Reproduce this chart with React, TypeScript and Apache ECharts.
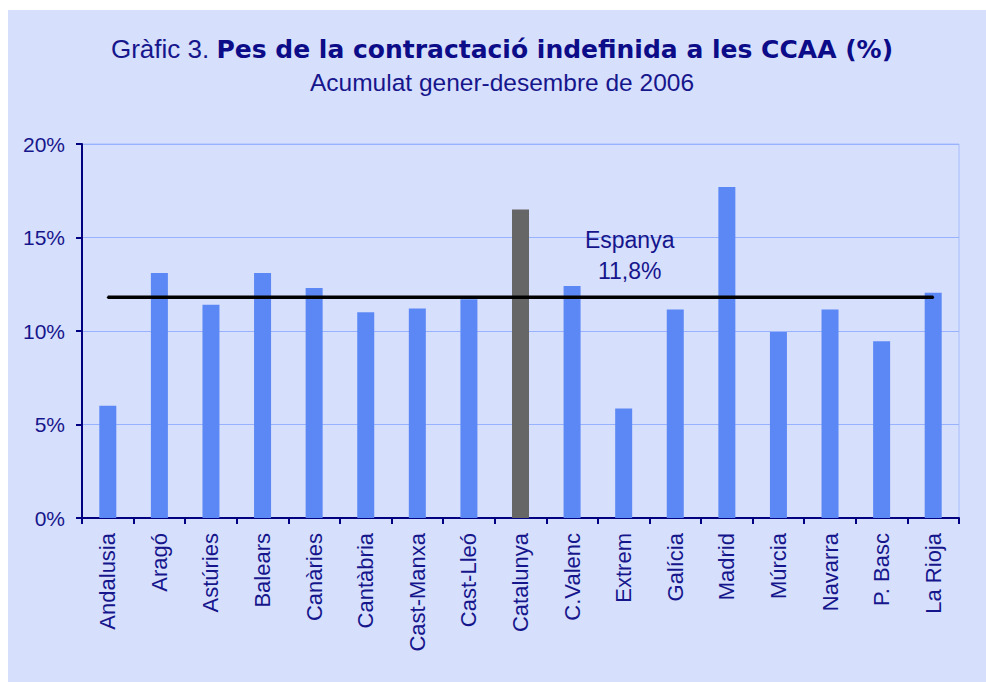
import React, { useEffect, useRef } from "react";
import * as echarts from "echarts";

const categories = [
  "Andalusia", "Aragó", "Astúries", "Balears", "Canàries", "Cantàbria",
  "Cast-Manxa", "Cast-Lleó", "Catalunya", "C.Valenc", "Extrem", "Galícia",
  "Madrid", "Múrcia", "Navarra", "P. Basc", "La Rioja",
];
const shares = [6.0, 13.1, 11.4, 13.1, 12.3, 11.0, 11.2, 11.7, 16.5, 12.4, 5.85, 11.15, 17.7, 9.95, 11.15, 9.45, 12.05];
const highlighted = "Catalunya";
const spainAverage = 11.8;
const spainLabel = "Espanya\n11,8%";
const labelAt = "Extrem";

const NAVY_TEXT = "#16168c";

export default function App() {
  const ref = useRef<HTMLDivElement>(null);
  useEffect(() => {
    if (!ref.current) return;
    const chart = echarts.init(ref.current, null, { renderer: "svg" });
    chart.setOption({
      animation: false,
      backgroundColor: "#d6dffc",
      graphic: [
        {
          type: "text",
          x: 494,
          y: 39,
          style: {
            text: "{a|Gràfic 3. }{b|Pes de la contractació indefinida a les CCAA (%)}",
            align: "center",
            verticalAlign: "middle",
            rich: {
              a: { fontSize: 26, fontFamily: "Liberation Sans", fill: NAVY_TEXT, color: NAVY_TEXT },
              b: { fontSize: 25, fontWeight: "bold", fontFamily: "DejaVu Sans", fill: "#0c0c88", color: "#0c0c88" },
            },
          },
        },
        {
          type: "text",
          x: 494,
          y: 72,
          style: {
            text: "Acumulat gener-desembre de 2006",
            align: "center",
            verticalAlign: "middle",
            fontSize: 24.5,
            fontFamily: "Liberation Sans",
            fill: NAVY_TEXT,
          },
        },
      ],
      grid: {
        left: 74,
        right: 27,
        top: 134,
        bottom: 164,
        show: true,
        borderColor: "#a6bcff",
        borderWidth: 1,
        backgroundColor: "transparent",
      },
      xAxis: {
        type: "category",
        data: categories,
        boundaryGap: true,
        axisLine: { lineStyle: { color: "#000080", width: 2 } },
        axisTick: { show: true, length: 6, alignWithLabel: false, lineStyle: { color: "#000080", width: 2 } },
        axisLabel: {
          rotate: 90,
          margin: 15,
          interval: 0,
          fontSize: 22,
          fontFamily: "Liberation Sans",
          color: NAVY_TEXT,
        },
      },
      yAxis: {
        type: "value",
        min: 0,
        max: 20,
        interval: 5,
        axisLine: { show: true, lineStyle: { color: "#000080", width: 2 } },
        axisTick: { show: true, length: 6, lineStyle: { color: "#000080", width: 2 } },
        axisLabel: {
          formatter: "{value}%",
          margin: 17,
          fontSize: 21,
          fontFamily: "Liberation Sans",
          color: NAVY_TEXT,
        },
        splitLine: { lineStyle: { color: "#99b2ff", width: 1 } },
      },
      series: [
        {
          type: "bar",
          barWidth: 17,
          data: shares.map((v, i) => ({
            value: v,
            itemStyle: { color: categories[i] === highlighted ? "#666666" : "#5c88f5" },
          })),
        },
        {
          type: "line",
          symbol: "circle",
          symbolSize: 2,
          showSymbol: true,
          itemStyle: { color: "#000000" },
          lineStyle: { color: "#000000", width: 3.5 },
          z: 5,
          data: categories.map((c) => ({
            value: spainAverage,
            label:
              c === labelAt
                ? {
                    show: true,
                    position: "top",
                    distance: 10,
                    offset: [6, 0],
                    formatter: spainLabel,
                    fontSize: 23,
                    lineHeight: 31,
                    fontFamily: "Liberation Sans",
                    color: NAVY_TEXT,
                  }
                : { show: false },
          })),
        },
      ],
    });
    return () => chart.dispose();
  }, []);
  return (
    <div
      ref={ref}
      style={{ position: "fixed", left: 8, top: 10, width: 978, height: 672 }}
    />
  );
}
